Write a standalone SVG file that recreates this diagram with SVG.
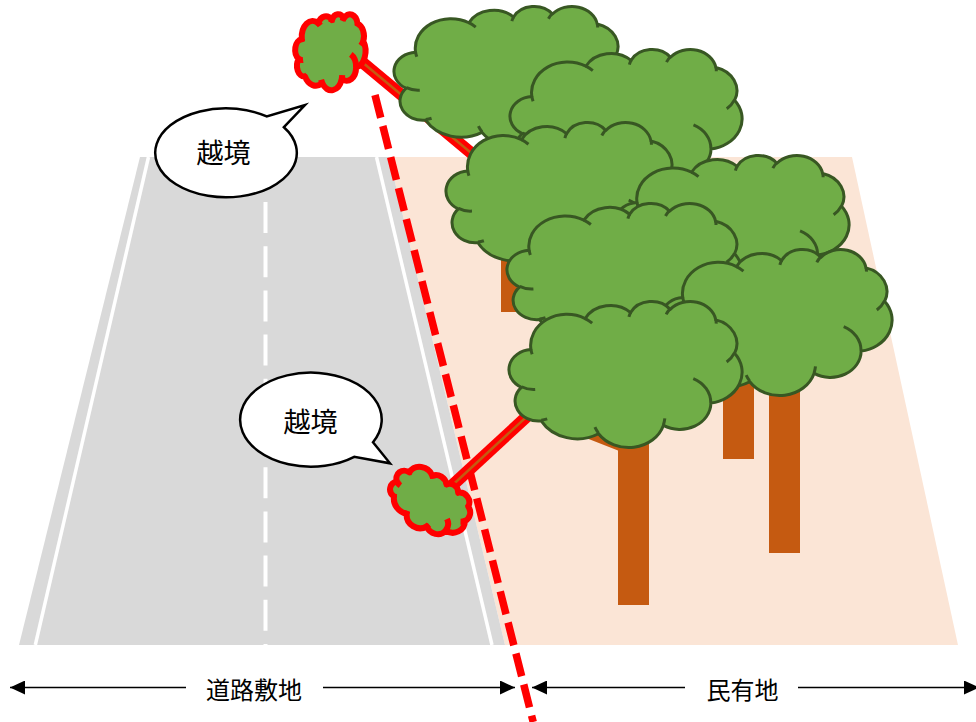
<svg xmlns="http://www.w3.org/2000/svg" xmlns:xlink="http://www.w3.org/1999/xlink" width="976" height="722" viewBox="0 0 976 722">
  <style>
    .peach { fill:#FBE5D6; }
    .road { fill:#D9D9D9; }
    .edge-line { stroke:#FFFFFF; stroke-width:3.5; fill:none; }
    .center-line { stroke:#FFFFFF; stroke-width:4; fill:none; stroke-dasharray:31 13.2; }
    .boundary { stroke:#FF0000; stroke-width:7.5; fill:none; stroke-dasharray:23.5 8.5; }
    .trunk { fill:#C55A11; }
    .canopy { fill:#70AD47; stroke:#385723; stroke-width:3; stroke-linejoin:round; }
    .canopy-arcs { fill:none; stroke:#385723; stroke-width:3; stroke-linecap:butt; }
    .overhang { fill:#70AD47; stroke:#FF0000; stroke-width:6; stroke-linejoin:round; }
    .overhang-arcs { fill:none; stroke:#FF0000; stroke-width:6; }
    .branch-out { stroke:#FF0000; stroke-width:12; fill:none; }
    .branch-core { stroke:#C55A11; stroke-width:2.5; fill:none; }
    .bubble { fill:#FFFFFF; stroke:#000000; stroke-width:2.5; stroke-linejoin:miter; }
    .jp { font-family:"Noto Sans CJK JP", "Noto Sans CJK SC", sans-serif; fill:#000000; text-anchor:middle; }
    .bubble-text { font-size:27px; }
    .label { font-size:24px; }
    .dim { stroke:#000000; stroke-width:1.5; fill:none; }
  </style>
  <defs>
    <!-- cloud outline in a 100 x 100 box -->
    <path id="crown" vector-effect="non-scaling-stroke" d="M9.03,33.26 A15.63,21.27 0 0 1 32.42,12.04 A12.35,16.82 0 0 1 51.99,7.94 A10.1,13.76 0 0 1 69.06,5.74 A11.24,15.27 0 0 1 88.71,12.91 A12.35,16.84 0 0 1 96.81,35.79 A15.68,21.34 0 0 1 86.59,69.91 A13.39,18.21 0 0 1 66.11,85.22 A15.63,21.33 0 0 1 38.16,90.9 A17.87,24.41 0 0 1 13.45,82.12 A10.09,13.7 0 0 1 4.9,59.16 A10.06,13.76 0 0 1 9.03,33.26 Z"/>
    <!-- inner arcs where the bumps overlap -->
    <path id="crown-arcs" vector-effect="non-scaling-stroke" d="M10.86,60.6 A10.06,13.76 0 0 1 5,58.75 M16.04,80.78 A10.09,13.7 0 0 1 13.47,81.67 M38.14,90.49 A15.63,21.33 0 0 1 36.59,86.45 M66.73,80.44 A15.63,21.33 0 0 1 66.11,84.86 M79,53.13 A13.39,18.21 0 0 1 86.53,69.65 M96.75,35.54 A12.35,16.84 0 0 1 93.4,41.74 M88.71,12.56 A11.24,15.27 0 0 1 88.89,15.49 M67.31,9.15 A11.24,15.27 0 0 1 69.03,5.42 M51.25,10.93 A10.1,13.76 0 0 1 52.08,7.71 M32.41,12.02 A15.63,21.27 0 0 1 35.41,15.14 M9.55,36.55 A15.63,21.27 0 0 1 9.03,33.26"/>
    <marker id="arrowhead" viewBox="0 0 15 14" refX="15" refY="7" markerWidth="15" markerHeight="14" markerUnits="userSpaceOnUse" orient="auto-start-reverse">
      <path d="M0,0 L15,7 L0,14 Z" fill="#000000"/>
    </marker>
  </defs>

  <!-- ground: private land and road -->
  <g id="ground">
    <polygon class="peach" points="389,157 852,157 958,645 505,645"/>
    <polygon class="road" points="140,157 389,157 505,645 19,645"/>
  </g>

  <g id="road-markings">
    <line class="edge-line" x1="148.5" y1="157" x2="35.3" y2="645"/>
    <line class="edge-line" x1="376.5" y1="157" x2="492" y2="645"/>
    <line class="center-line" x1="265.5" y1="157.8" x2="265.5" y2="645"/>
  </g>

  <!-- property boundary -->
  <g id="boundary">
    <line class="boundary" x1="375" y1="95" x2="533.2" y2="722"/>
  </g>

  <!-- upper overhanging branch -->
  <g id="overhang-1">
    <line class="branch-out" x1="350" y1="52" x2="488" y2="167"/>
    <line class="branch-core" x1="350" y1="52" x2="488" y2="167"/>
    <g transform="translate(295.5,14) scale(0.70,0.76)">
      <use xlink:href="#crown" class="overhang"/>
      <use xlink:href="#crown-arcs" class="overhang-arcs"/>
    </g>
  </g>

  <g id="tree-1" transform="translate(395,6) scale(2.28,1.39)">
    <use xlink:href="#crown" class="canopy"/>
    <use xlink:href="#crown-arcs" class="canopy-arcs"/>
  </g>

  <g id="tree-2" transform="translate(511,49) scale(2.31,1.43)">
    <use xlink:href="#crown" class="canopy"/>
    <use xlink:href="#crown-arcs" class="canopy-arcs"/>
  </g>

  <g id="tree-3">
    <rect class="trunk" x="501" y="250" width="30" height="62"/>
    <g transform="translate(447,122) scale(2.30,1.47)">
      <use xlink:href="#crown" class="canopy"/>
      <use xlink:href="#crown-arcs" class="canopy-arcs"/>
    </g>
  </g>

  <g id="tree-4">
    <rect class="trunk" x="723" y="360" width="31" height="99"/>
    <g transform="translate(616,155) scale(2.33,1.43)">
      <use xlink:href="#crown" class="canopy"/>
      <use xlink:href="#crown-arcs" class="canopy-arcs"/>
    </g>
  </g>

  <g id="tree-5" transform="translate(508,203) scale(2.34,1.42)">
    <use xlink:href="#crown" class="canopy"/>
    <use xlink:href="#crown-arcs" class="canopy-arcs"/>
  </g>

  <g id="tree-6">
    <rect class="trunk" x="769" y="370" width="31" height="183"/>
    <g transform="translate(662,249) scale(2.30,1.46)">
      <use xlink:href="#crown" class="canopy"/>
      <use xlink:href="#crown-arcs" class="canopy-arcs"/>
    </g>
  </g>

  <!-- lower overhanging branch -->
  <g id="overhang-2">
    <line class="branch-out" x1="445" y1="492" x2="548" y2="397"/>
    <line class="branch-core" x1="445" y1="492" x2="548" y2="397"/>
    <g transform="translate(429.5,502) rotate(40) translate(-42,-29) scale(0.84,0.58)">
      <use xlink:href="#crown" class="overhang"/>
      <use xlink:href="#crown-arcs" class="overhang-arcs"/>
    </g>
  </g>

  <g id="tree-7">
    <polygon class="trunk" points="530,416 618,450.5 618,605 649,605 649,410 570,395"/>
    <g transform="translate(510,301) scale(2.32,1.46)">
      <use xlink:href="#crown" class="canopy"/>
      <use xlink:href="#crown-arcs" class="canopy-arcs"/>
    </g>
  </g>

  <!-- callouts -->
  <g id="callout-1">
    <path class="bubble" d="M283.9,127.2 L305,105 L266.7,116.4 A70.8,44.5 0 1 0 283.9,127.2 Z"/>
    <text class="jp bubble-text" x="223.5" y="163">越境</text>
  </g>
  <g id="callout-2">
    <path class="bubble" d="M373,442.2 L390,463.3 L354.2,456.8 A70.8,47 0 1 1 373,442.2 Z"/>
    <text class="jp bubble-text" x="310.5" y="432">越境</text>
  </g>

  <!-- extent dimensions -->
  <g id="dimensions">
    <line class="dim" x1="10" y1="687.5" x2="186" y2="687.5" marker-start="url(#arrowhead)"/>
    <line class="dim" x1="323" y1="687.5" x2="515" y2="687.5" marker-end="url(#arrowhead)"/>
    <text class="jp label" x="254" y="699">道路敷地</text>
    <line class="dim" x1="532" y1="687.5" x2="685" y2="687.5" marker-start="url(#arrowhead)"/>
    <line class="dim" x1="798" y1="687.5" x2="979" y2="687.5" marker-end="url(#arrowhead)"/>
    <text class="jp label" x="742.5" y="699">民有地</text>
  </g>
</svg>
